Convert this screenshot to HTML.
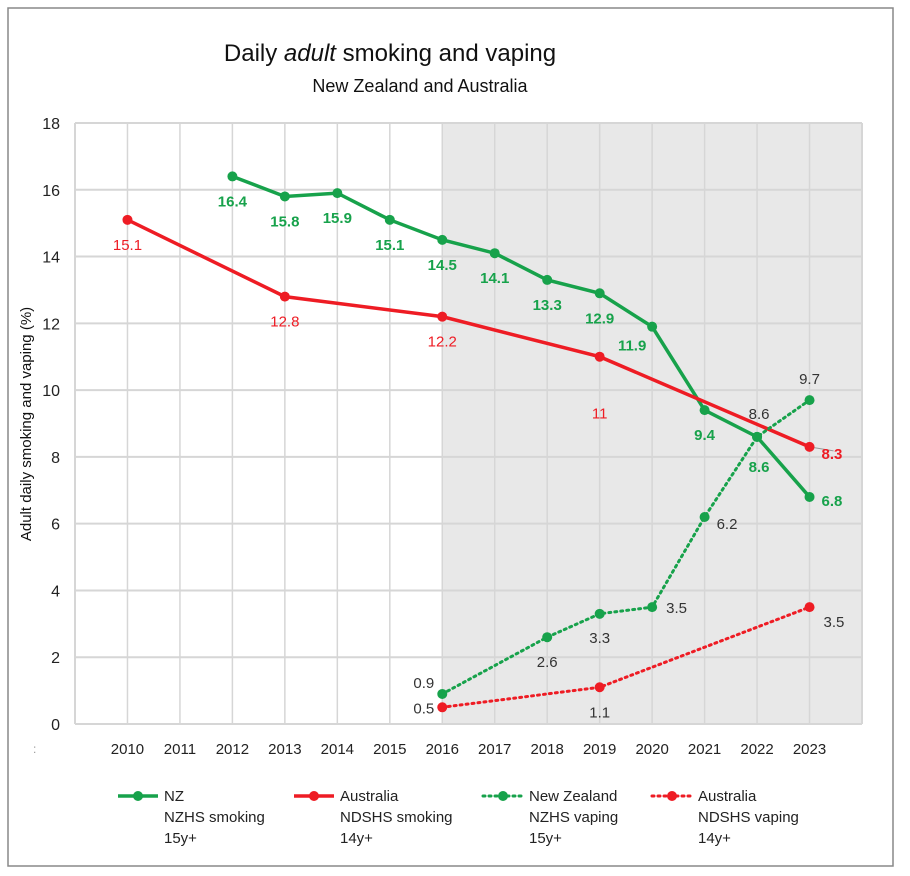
<!DOCTYPE html>
<html><head><meta charset="utf-8"><style>
body{margin:0;background:#fff;}
svg{display:block;font-family:"Liberation Sans",sans-serif;}
</style></head><body>
<svg id="chart" width="910" height="876" viewBox="0 0 910 876">
<rect x="8" y="8" width="885" height="858" fill="#fff" stroke="#888" stroke-width="1.5"/>
<text x="390" y="61" font-size="24" text-anchor="middle" fill="#111">Daily <tspan font-style="italic">adult</tspan> smoking and vaping</text>
<text x="420" y="92" font-size="18" text-anchor="middle" fill="#111">New Zealand and Australia</text>
<text transform="translate(31,424) rotate(-90)" font-size="15" text-anchor="middle" fill="#111">Adult daily smoking and vaping (%)</text>
<g id="plot"></g>
<g id="legend"></g>
</svg>
<script>
const years = [2010,2011,2012,2013,2014,2015,2016,2017,2018,2019,2020,2021,2022,2023];
const yTicks = [0,2,4,6,8,10,12,14,16,18];
const nzSmokeYears = [2012,2013,2014,2015,2016,2017,2018,2019,2020,2021,2022,2023];
const nzSmoke = [16.4,15.8,15.9,15.1,14.5,14.1,13.3,12.9,11.9,9.4,8.6,6.8];
const auSmokeYears = [2010,2013,2016,2019,2023];
const auSmoke = [15.1,12.8,12.2,11,8.3];
const nzVapeYears = [2016,2018,2019,2020,2021,2022,2023];
const nzVape = [0.9,2.6,3.3,3.5,6.2,8.6,9.7];
const auVapeYears = [2016,2019,2023];
const auVape = [0.5,1.1,3.5];

const NS="http://www.w3.org/2000/svg";
const L=75,R=862,T=123,B=724;
const step=(R-L)/15;
const x=yr=>L+step*(years.indexOf(yr)+1);
const y=v=>B-(v/18)*(B-T);
const plot=document.getElementById('plot');
function mk(tag,attrs,parent){const e=document.createElementNS(NS,tag);for(const k in attrs)e.setAttribute(k,attrs[k]);(parent||plot).appendChild(e);return e;}

let e=mk('rect',{x:x(2016),y:T,width:R-x(2016),height:B-T,fill:'#e8e8e8'});


yTicks.forEach(t=>{
  let g=mk('line',{x1:L,x2:R,y1:y(t),y2:y(t),stroke:'#d6d6d6','stroke-width':2});
  
  
  let tx=mk('text',{x:60,y:y(t)+6,'font-size':16,'text-anchor':'end',fill:'#222'});
  tx.textContent=t;
  
  
});
mk('line',{x1:L,x2:L,y1:T,y2:B,stroke:'#d6d6d6','stroke-width':2});
mk('line',{x1:R,x2:R,y1:T,y2:B,stroke:'#d6d6d6','stroke-width':2});
years.forEach(yr=>{
  let g=mk('line',{x1:x(yr),x2:x(yr),y1:T,y2:B,stroke:'#d6d6d6','stroke-width':1.5});
  
  
  let tx=mk('text',{x:x(yr),y:754,'font-size':15,'text-anchor':'middle',fill:'#222'});
  tx.textContent=yr;
  
  
});
let c=mk('text',{x:33,y:753,'font-size':12,fill:'#999'});c.textContent=':';



const GREEN='#17a24b',RED='#ee1c24';
function series(name,yrs,vals,color,dashed,labelOffsets,labelColor,bold){
  const pts=yrs.map((yr,i)=>x(yr)+','+y(vals[i])).join(' ');
  let pl=mk('polyline',{points:pts,fill:'none',stroke:color,'stroke-width':dashed?3:3.5,'stroke-dasharray':dashed?'2 4':'none','stroke-linecap':dashed?'round':'butt'});
  
  
  const labels=[];
  yrs.forEach((yr,i)=>{
    let p=mk('circle',{cx:x(yr),cy:y(vals[i]),r:5,fill:color});
    
    
    const o=labelOffsets[i];
    let t=mk('text',{x:x(yr)+o[0],y:y(vals[i])+o[1],'font-size':15,'text-anchor':o[2]||'middle',fill:labelColor,'font-weight':bold?'bold':'normal'});
    t.textContent=vals[i];
    
    
    labels.push(t);
  });
  return labels;
}
mk('line',{x1:x(2023),y1:y(8.3),x2:x(2023)+24,y2:y(8.3)+4,stroke:'#999','stroke-width':1});
series('nz-smoking',nzSmokeYears,nzSmoke,GREEN,false,
 [[0,30],[0,30],[0,30],[0,30],[0,30],[0,30],[0,30],[0,30],[-20,24],[0,30],[2,35],[12,9,'start']],GREEN,true);
const auLabels=series('au-smoking',auSmokeYears,auSmoke,RED,false,
 [[0,30],[0,30],[0,30],[0,62],[12,12,'start']],RED,false);
auLabels[auLabels.length-1].setAttribute('font-weight','bold');
series('nz-vaping',nzVapeYears,nzVape,GREEN,true,
 [[-8,-6,'end'],[0,30],[0,29],[14,6,'start'],[12,12,'start'],[2,-18],[0,-16]],'#333',false);
series('au-vaping',auVapeYears,auVape,RED,true,
 [[-8,6,'end'],[0,30],[14,20,'start']],'#333',false);

const legendNames=['NZ','Australia','New Zealand','Australia'];
const legendSub=['NZHS smoking','NDSHS smoking','NZHS vaping','NDSHS vaping'];
const legendAge=['15y+','14y+','15y+','14y+'];
const lg=document.getElementById('legend');
const lx=[118,294,483,652],lc=[GREEN,RED,GREEN,RED],ld=[false,false,true,true];
legendNames.forEach((n,i)=>{
  const g=mk('g',{},lg);
  
  
  mk('line',{x1:lx[i],x2:lx[i]+40,y1:796,y2:796,stroke:lc[i],'stroke-width':ld[i]?3:3.5,'stroke-dasharray':ld[i]?'2 4':'none','stroke-linecap':ld[i]?'round':'butt'},g);
  mk('circle',{cx:lx[i]+20,cy:796,r:5,fill:lc[i]},g);
  [n,legendSub[i],legendAge[i]].forEach((s,j)=>{
    const t=mk('text',{x:lx[i]+46,y:801+j*21,'font-size':15,fill:'#222'},g);
    t.textContent=s;
  });
});
</script>
</body></html>
